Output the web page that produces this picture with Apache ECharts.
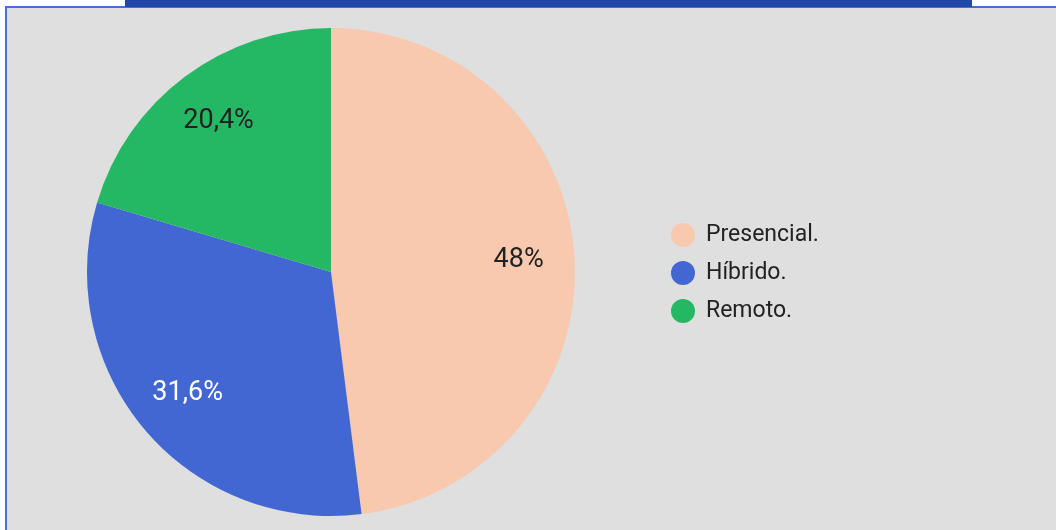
<!DOCTYPE html>
<html>
<head>
<meta charset="utf-8">
<script src="https://cdn.jsdelivr.net/npm/echarts@6/dist/echarts.min.js"></script>
<style>
	html, body { margin: 0; padding: 0; background: #ffffff; }
	#chart { width: 1056px; height: 530px; }
</style>
</head>
<body>
<div id="chart"></div>
<script>
const categories = ['Presencial.', 'Híbrido.', 'Remoto.'];
const values = [48, 31.6, 20.4];
const labels = ['48%', '31,6%', '20,4%'];
const colors = ['#f8c9ae', '#4367d2', '#25b864'];
const labelColors = ['#222222', '#ffffff', '#222222'];

function buildData(withLabels) {
	let data = [];
	for (let i = 0; i < categories.length; i++) {
		data.push({
			value: values[i],
			name: categories[i],
			itemStyle: { color: withLabels ? 'rgba(0,0,0,0)' : colors[i] },
			label: withLabels ? { show: true, formatter: labels[i], color: labelColors[i] } : { show: false }
		});
	}
	return data;
}

var chartDom = document.getElementById('chart');
var myChart = echarts.init(chartDom);

var option = {
	animation: false,
	color: colors,
	graphic: [
		{ type: 'rect', shape: { x: 7, y: 8, width: 1049, height: 522 }, style: { fill: '#dfdfdf' }, z: -10 },
		{ type: 'rect', shape: { x: 5, y: 6, width: 1051, height: 2 }, style: { fill: '#4a6fd4' }, z: -9 },
		{ type: 'rect', shape: { x: 5, y: 6, width: 2, height: 524 }, style: { fill: '#4a6fd4' }, z: -9 },
		{ type: 'rect', shape: { x: 125, y: 0, width: 847, height: 7 }, style: { fill: '#2148a8' }, z: -8 }
	],
	legend: {
		orient: 'vertical',
		left: 666,
		top: 218,
		icon: 'circle',
		itemWidth: 24,
		itemHeight: 24,
		itemGap: 14,
		data: categories,
		textStyle: { fontFamily: 'Roboto', fontSize: 23, color: '#222222', padding: [0, 0, 0, 6] }
	},
	series: [
		{
			name: 'Modalidad',
			type: 'pie',
			center: [331, 272],
			radius: 244,
			startAngle: 90,
			clockwise: true,
			silent: true,
			label: { show: false },
			labelLine: { show: false },
			data: buildData(false)
		},
		{
			name: 'Etiquetas',
			type: 'pie',
			center: [331, 272],
			radius: 370,
			startAngle: 90,
			clockwise: true,
			silent: true,
			z: 3,
			label: {
				position: 'inner',
				fontFamily: 'Roboto',
				fontSize: 27
			},
			labelLine: { show: false },
			data: buildData(true)
		}
	]
};

option && myChart.setOption(option);
</script>
</body>
</html>
